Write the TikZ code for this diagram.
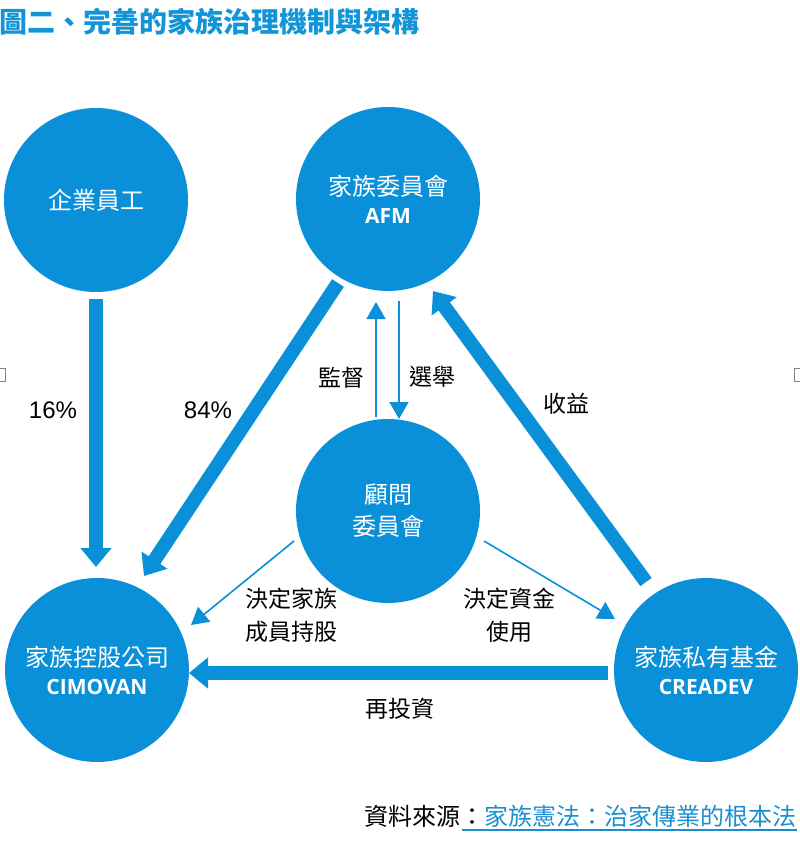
\documentclass[tikz,border=0pt]{standalone}
\usepackage{fontspec}
\setmainfont{Noto Sans CJK TC}
\newfontfamily\latinf{Open Sans}
\newfontfamily\arialf{Liberation Sans}
\usetikzlibrary{arrows.meta}
\definecolor{cblue}{HTML}{0A90D8}
\definecolor{ctitle}{HTML}{1295D8}
\definecolor{clink}{HTML}{1A8FD0}
\tikzset{
 x=1pt,y=-1pt,
 circ/.style={circle,fill=cblue,text=white,minimum size=184pt,inner sep=0pt,align=center,font=\fontsize{24}{32}\selectfont},
 lbl/.style={text=black,align=center,inner sep=0pt,font=\fontsize{23}{33}\selectfont},
 thick arrow/.style={draw=cblue,line width=14pt,-{Triangle[length=19pt,width=30pt]}},
 mid arrow/.style={draw=cblue,line width=10pt,-{Triangle[length=17pt,width=24pt]}},
 thin arrow/.style={draw=cblue,line width=1.6pt,-{Triangle[length=17pt,width=19pt]}},
}
\newcommand{\lat}[1]{{\latinf\bfseries\fontsize{21}{26}\selectfont #1}}
\begin{document}
\begin{tikzpicture}
\useasboundingbox (0,0) rectangle (800,843);
\node[circ] (emp) at (96,200) {企業員工};
\node[circ] (afm) at (388,199) {家族委員會\\[-4pt]\lat{AFM}};
\node[circ] (adv) at (388,511) {顧問\\委員會};
\node[circ] (cim) at (97,670) {家族控股公司\\[-4pt]\lat{CIMOVAN}};
\node[circ] (cre) at (706,670) {家族私有基金\\[-4pt]\lat{CREADEV}};
\coordinate (e1) at (96,299); \coordinate (e2) at (96,567);
\draw[thick arrow] (e1) -- (e2);
\coordinate (a1) at (338,283); \coordinate (a2) at (144,576);
\draw[thick arrow] (a1) -- (a2);
\coordinate (c1) at (646,582); \coordinate (c2) at (433,291);
\draw[thick arrow] (c1) -- (c2);
\coordinate (r1) at (608,673); \coordinate (r2) at (189,673);
\draw[thick arrow] (r1) -- (r2);
\coordinate (u1) at (376,417); \coordinate (u2) at (376,302);
\draw[thin arrow] (u1) -- (u2);
\coordinate (d1) at (399,301); \coordinate (d2) at (399,419);
\draw[thin arrow] (d1) -- (d2);
\coordinate (l1) at (294,541); \coordinate (l2) at (191,625);
\draw[thin arrow] (l1) -- (l2);
\coordinate (k1) at (484,541); \coordinate (k2) at (615,619);
\draw[thin arrow] (k1) -- (k2);
\node[lbl,font=\arialf\fontsize{24}{28}\selectfont] (p16) at (53,410) {16\%};
\node[lbl,font=\arialf\fontsize{24}{28}\selectfont] (p84) at (208,410) {84\%};
\node[lbl] (n1) at (341,378) {監督};
\node[lbl] (n2) at (432,377) {選舉};
\node[lbl] (n3) at (566,404) {收益};
\node[lbl] (n4) at (291,615) {決定家族\\成員持股};
\node[lbl] (n5) at (509,615) {決定資金\\使用};
\node[lbl] (n6) at (400,709) {再投資};
\node[anchor=west,inner sep=0pt,text=ctitle,font=\fontsize{28}{32}\selectfont\bfseries] (title) at (-1,22) {圖二、完善的家族治理機制與架構};
\node[anchor=east,inner sep=0pt,font=\fontsize{24}{30}\selectfont] (src) at (797,816) {資料來源：\textcolor{clink}{家族憲法：治家傳業的根本法}};
\draw[clink,line width=1.2pt] (462,830) -- (797,830);
\draw[gray,line width=.6pt,fill=white] (-3,368) rectangle (5,381);
\draw[gray,line width=.6pt,fill=white] (794,368) rectangle (802,381);
\end{tikzpicture}
\end{document}
